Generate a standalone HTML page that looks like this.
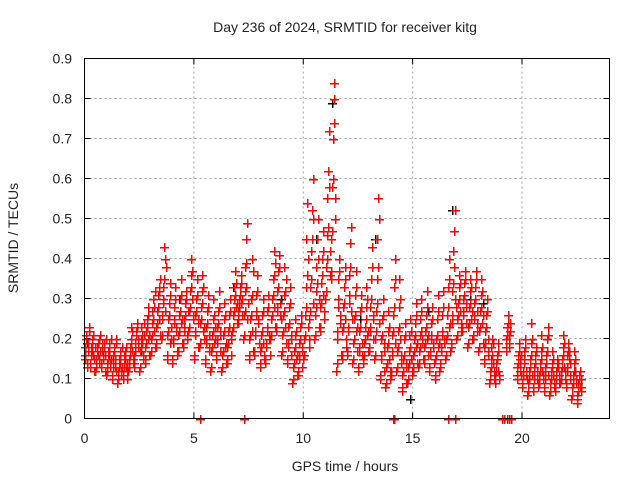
<!DOCTYPE html>
<html><head><meta charset="utf-8"><style>
body{margin:0;background:#fff}
svg text{font-family:"Liberation Sans",sans-serif;fill:#222}
</style></head><body>
<svg id="chart" width="640" height="480" viewBox="0 0 640 480" xmlns="http://www.w3.org/2000/svg">
<text x="345" y="32" font-size="14" text-anchor="middle">Day 236 of 2024, SRMTID for receiver kitg</text>
<text transform="translate(18,238) rotate(-90)" font-size="14" text-anchor="middle">SRMTID / TECUs</text>
<text x="345" y="471" font-size="14" text-anchor="middle">GPS time / hours</text>
<g id="grid"></g>
<g id="ticks"></g>
<g id="marks"></g>
<rect x="84.5" y="58.5" width="525" height="360" fill="none" stroke="#000" stroke-width="1"/>
</svg>
<script>
const xTicks=[0,5,10,15,20];
const yTicks=[0,0.1,0.2,0.3,0.4,0.5,0.6,0.7,0.8,0.9];
const yTickLabels=["0","0.1","0.2","0.3","0.4","0.5","0.6","0.7","0.8","0.9"];
const binTimes=[0,0.25,0.5,0.75,1,1.25,1.5,1.75,2,2.25,2.5,2.75,3,3.25,3.5,3.75,4,4.25,4.5,4.75,5,5.25,5.5,5.75,6,6.25,6.5,6.75,7,7.25,7.5,7.75,8,8.25,8.5,8.75,9,9.25,9.5,9.75,10,10.25,10.5,10.75,11,11.25,11.5,11.75,12,12.25,12.5,12.75,13,13.25,13.5,13.75,14,14.25,14.5,14.75,15,15.25,15.5,15.75,16,16.25,16.5,16.75,17,17.25,17.5,17.75,18,18.25,18.5,18.75,19.25,19.75,20,20.25,20.5,20.75,21,21.25,21.5,21.75,22,22.25,22.5];
const binValues=[
[.15,.18,.21,.14,.19,.17,.22],[.13,.16,.19,.17,.21,.15,.18],[.12,.15,.18,.16,.20,.14,.17],[.13,.17,.19,.15,.18,.16,.20],
[.11,.14,.17,.16,.19,.13,.15],[.10,.13,.16,.18,.15,.12,.20],[.09,.12,.15,.14,.17,.11,.13],[.10,.13,.16,.15,.18,.12,.14],
[.12,.15,.18,.20,.23,.17,.14],[.13,.16,.19,.22,.24,.18,.20],[.12,.17,.20,.23,.19,.15,.21],[.14,.18,.22,.25,.28,.20,.16],
[.16,.20,.24,.27,.30,.22,.18],[.18,.23,.27,.31,.33,.25,.21],[.20,.25,.29,.33,.43,.27,.38],[.15,.21,.25,.29,.34,.19,.23],
[.14,.19,.24,.28,.33,.22,.17],[.16,.21,.26,.30,.35,.24,.19],[.18,.22,.25,.29,.32,.20,.27],[.22,.27,.32,.36,.40,.30,.25],
[.15,.21,.26,.30,.35,.24,.18],[.18,.24,.28,.32,.36,.22,.20],[.14,.19,.23,.27,.31,.21,.17],[.12,.17,.21,.25,.30,.19,.23],
[.15,.19,.23,.27,.32,.21,.17],[.12,.16,.21,.25,.29,.18,.14],[.14,.18,.22,.26,.30,.20,.16],[.22,.26,.30,.33,.37,.28,.24],
[.24,.27,.30,.33,.36,.29,.26],[.20,.26,.32,.38,.45,.49,.29],[.15,.20,.25,.30,.40,.22,.17],[.16,.21,.26,.31,.36,.24,.19],
[.13,.17,.21,.26,.30,.19,.15],[.14,.18,.22,.27,.31,.20,.16],[.20,.25,.30,.35,.42,.28,.23],[.22,.27,.32,.37,.41,.29,.25],
[.16,.21,.26,.31,.38,.23,.19],[.14,.18,.23,.28,.33,.20,.16],[.09,.13,.17,.21,.25,.15,.11],[.11,.15,.19,.23,.26,.17,.13],
[.15,.20,.26,.33,.45,.54,.23],[.18,.25,.33,.42,.52,.60,.29],[.20,.26,.32,.38,.45,.50,.23],[.22,.28,.34,.40,.47,.31,.25],
[.30,.38,.46,.55,.62,.72,.42],[.35,.45,.58,.70,.80,.84,.50],[.12,.20,.28,.35,.40,.24,.16],[.15,.22,.28,.33,.38,.25,.18],
[.16,.22,.29,.36,.44,.48,.25],[.14,.19,.25,.31,.37,.22,.17],[.12,.17,.22,.27,.31,.19,.14],[.15,.19,.23,.28,.33,.21,.17],
[.17,.22,.28,.35,.43,.25,.20],[.15,.20,.27,.35,.45,.55,.24],[.10,.15,.20,.25,.30,.17,.12],[.08,.13,.18,.22,.27,.15,.10],
[.11,.16,.21,.26,.33,.40,.19],[.12,.17,.22,.28,.35,.20,.14],[.07,.11,.15,.20,.24,.13,.09],[.09,.13,.17,.21,.25,.15,.11],
[.12,.16,.20,.24,.29,.18,.14],[.13,.17,.21,.25,.30,.19,.15],[.14,.18,.22,.26,.32,.20,.16],[.12,.16,.20,.24,.28,.18,.14],
[.10,.15,.20,.25,.31,.18,.12],[.13,.17,.21,.26,.32,.19,.15],[.15,.20,.26,.33,.40,.23,.17],[.18,.24,.32,.42,.47,.52,.28],
[.20,.25,.29,.33,.36,.27,.22],[.22,.26,.30,.34,.37,.28,.24],[.18,.23,.28,.32,.35,.25,.20],[.20,.25,.29,.33,.37,.27,.22],
[.17,.22,.27,.31,.35,.24,.19],[.14,.18,.22,.26,.30,.20,.16],[.09,.12,.15,.18,.20,.14,.10],[.09,.11,.14,.16,.19,.12,.10],
[.17,.20,.23,.26,.21,.18,.24],[.10,.13,.16,.19,.12,.15,.11],[.08,.11,.14,.17,.20,.12,.10],[.06,.09,.12,.15,.19,.24,.11],
[.07,.10,.13,.16,.18,.12,.09],[.08,.11,.14,.17,.21,.12,.10],[.07,.10,.13,.16,.20,.23,.11],[.06,.09,.12,.14,.17,.11,.08],
[.07,.10,.12,.15,.13,.09,.11],[.09,.12,.15,.18,.21,.13,.10],[.08,.12,.16,.19,.17,.14,.10],[.05,.08,.11,.14,.17,.12,.09],
[.04,.06,.09,.11,.08,.07,.10]];
const binValuesB=[
[.16,.20,.13,.18,.23],[.14,.18,.20,.16,.12],[.13,.17,.19,.15,.21],[.14,.18,.16,.19,.12],
[.12,.15,.18,.14,.20],[.11,.14,.17,.13,.19],[.10,.13,.16,.12,.18],[.11,.14,.17,.13,.10],
[.13,.16,.19,.22,.15],[.14,.17,.21,.23,.19],[.13,.18,.21,.16,.24],[.15,.19,.23,.26,.21],
[.17,.21,.25,.28,.32],[.19,.24,.28,.32,.35],[.21,.26,.30,.35,.40],[.16,.22,.26,.31,.20],
[.15,.20,.25,.30,.23],[.17,.22,.27,.31,.25],[.19,.23,.26,.30,.21],[.23,.28,.33,.37,.26],
[.16,.22,.27,.31,.25],[.19,.25,.29,.33,.23],[.15,.20,.24,.28,.18],[.13,.18,.22,.26,.20],
[.16,.20,.24,.28,.22],[.13,.17,.22,.26,.19],[.15,.19,.23,.27,.21],[.23,.27,.31,.34,.29],
[.25,.28,.31,.34,.30],[.21,.27,.33,.39,.25],[.16,.21,.26,.31,.37],[.17,.22,.27,.32,.25],
[.14,.18,.22,.27,.16],[.15,.19,.23,.28,.21],[.21,.26,.31,.36,.39],[.23,.28,.33,.38,.26],
[.17,.22,.27,.32,.35],[.15,.19,.24,.29,.21],[.10,.14,.18,.22,.16],[.12,.16,.20,.24,.18],
[.16,.21,.28,.36,.40],[.20,.27,.35,.45,.50],[.21,.28,.34,.40,.30],[.23,.29,.36,.42,.27],
[.32,.40,.48,.58,.36],[.37,.47,.60,.74,.55],[.14,.22,.30,.37,.26],[.16,.23,.29,.35,.20],
[.17,.23,.31,.38,.27],[.15,.20,.26,.33,.23],[.13,.18,.23,.28,.16],[.16,.20,.25,.30,.22],
[.18,.23,.30,.38,.26],[.16,.22,.29,.38,.50],[.11,.16,.21,.26,.19],[.09,.14,.19,.23,.12],
[.12,.17,.22,.28,.35],[.13,.18,.23,.30,.16],[.08,.12,.16,.21,.14],[.10,.14,.18,.22,.12],
[.13,.17,.21,.26,.19],[.14,.18,.22,.27,.20],[.15,.19,.23,.28,.21],[.13,.17,.21,.25,.19],
[.11,.16,.21,.27,.19],[.14,.18,.22,.28,.20],[.16,.21,.28,.35,.24],[.19,.26,.34,.38,.30],
[.21,.26,.30,.34,.24],[.23,.27,.31,.35,.29],[.19,.24,.29,.33,.27],[.21,.26,.30,.35,.24],
[.18,.23,.28,.32,.26],[.15,.19,.23,.27,.17],[.10,.13,.16,.19,.12],[.10,.12,.15,.17,.11],
[.18,.21,.24,.19,.22],[.11,.14,.17,.13,.16],[.09,.12,.15,.18,.11],[.07,.10,.13,.16,.20],
[.08,.11,.14,.17,.10],[.09,.12,.15,.18,.11],[.08,.11,.14,.17,.21],[.07,.10,.13,.15,.09],
[.08,.11,.13,.14,.10],[.10,.13,.16,.19,.12],[.09,.13,.17,.15,.11],[.06,.09,.12,.15,.10],
[.05,.07,.10,.12,.08]];
const zeroTimes=[5.3,7.3,14.1,14.15,16.6,16.95,19.1,19.2,19.3,19.4,19.5];
const blackTimes=[0.1,2.6,4.3,6.8,9.0,10.6,11.3,12.6,13.3,14.9,15.7,16.8,17.6,18.2];
const blackValues=[0.19,0.17,0.3,0.33,0.3,0.45,0.79,0.25,0.45,0.05,0.27,0.52,0.3,0.29];
const NS='http://www.w3.org/2000/svg';
const X0=84.5,X1=609.5,Y0=418.5,Y1=58.5;
const xs=t=>X0+(t/24)*(X1-X0);
const ys=v=>Y0-(v/0.9)*(Y0-Y1);
const grid=document.getElementById('grid'),ticks=document.getElementById('ticks'),marks=document.getElementById('marks');
function mk(tag,attrs,parent){const e=document.createElementNS(NS,tag);for(const k in attrs)e.setAttribute(k,attrs[k]);parent.appendChild(e);return e;}
yTicks.forEach((v,i)=>{const y=ys(v);
 if(i>0&&i<yTicks.length-1){const g=mk('line',{x1:X0,x2:X1,y1:y,y2:y,stroke:'#a0a0a0','stroke-dasharray':'2,3'},grid);
 
 }
 mk('line',{x1:X0,x2:X0+6,y1:y,y2:y,stroke:'#000'},ticks);
 mk('line',{x1:X1,x2:X1-6,y1:y,y2:y,stroke:'#000'},ticks);
 const t=mk('text',{x:72,y:y+5,'font-size':14,'text-anchor':'end'},ticks);t.textContent=yTickLabels[i];
 
 
});
xTicks.forEach(v=>{const x=xs(v);
 if(v>0){const g=mk('line',{x1:x,x2:x,y1:Y0,y2:Y1,stroke:'#a0a0a0','stroke-dasharray':'2,3'},grid);
 
 }
 mk('line',{x1:x,x2:x,y1:Y0,y2:Y0-6,stroke:'#000'},ticks);
 mk('line',{x1:x,x2:x,y1:Y1,y2:Y1+6,stroke:'#000'},ticks);
 const t=mk('text',{x:x,y:443,'font-size':14,'text-anchor':'middle'},ticks);t.textContent=String(v);
 
 
});
function plus(t,v,color,name){const x=Math.round(xs(t)),y=Math.round(ys(v));
 const p=mk('path',{d:`M${x-4} ${y}h9v1.5h-9zM${x} ${y-4}h1.5v9h-1.5z`,fill:color,stroke:'none'},marks);
 
 }
blackTimes.forEach((t,i)=>plus(t,blackValues[i],'#000000','black-point'));
binTimes.forEach((t,i)=>binValues[i].forEach((v,j)=>plus(t+j*0.035,v,'#ff0000','srmtid-point')));
binTimes.forEach((t,i)=>binValuesB[i].forEach((v,j)=>plus(t+0.02+j*0.045,v,'#ff0000','srmtid-point')));
zeroTimes.forEach(t=>plus(t,0,'#ff0000','zero-point'));
</script>
</body></html>
